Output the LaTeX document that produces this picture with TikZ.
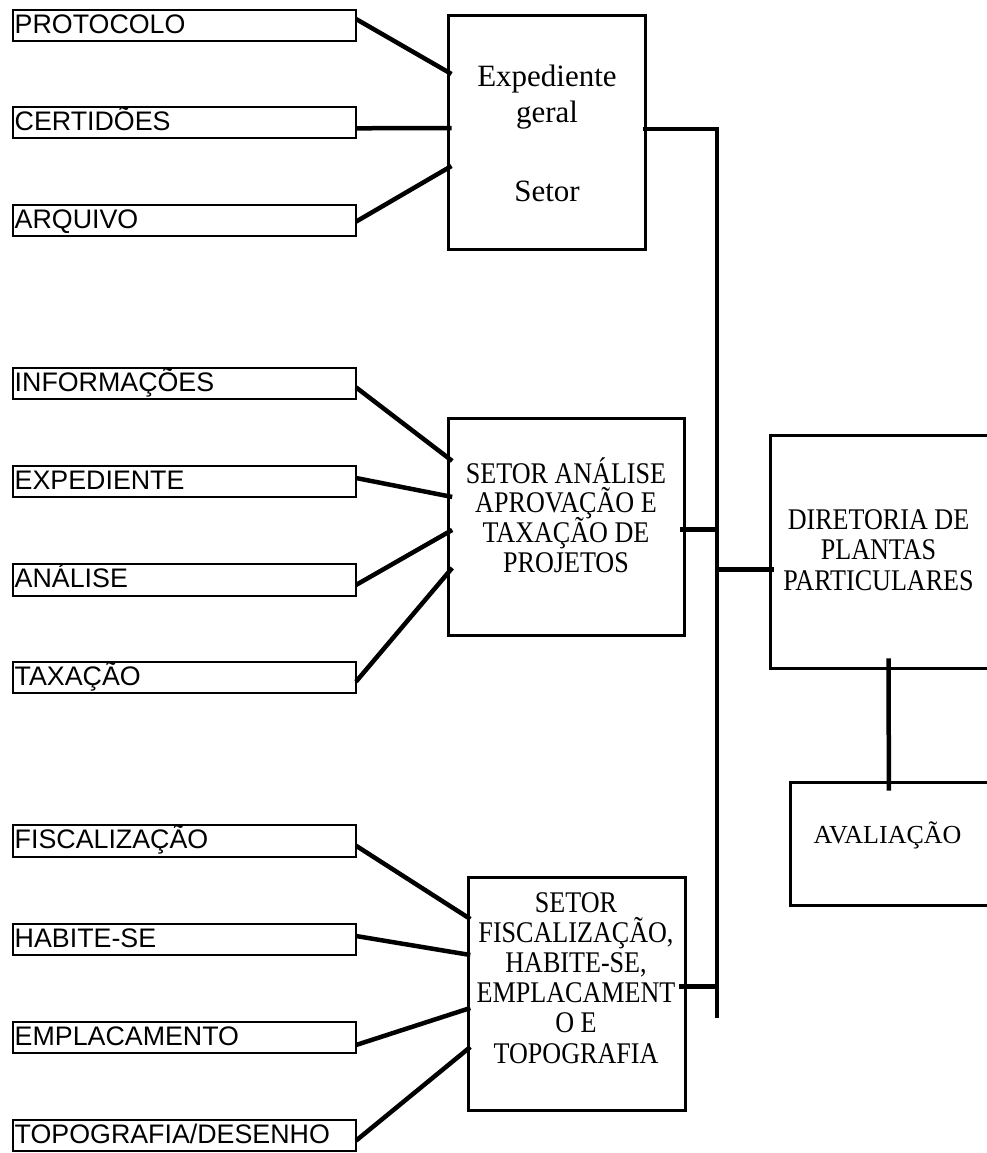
\documentclass[tikz,border=0pt]{standalone}
\usepackage{fontspec}
\setmainfont{Liberation Serif}
\newfontfamily\arialf{Liberation Sans}
\newfontfamily\condserif[FakeStretch=0.87]{Liberation Serif}
\newcommand\ctrlines[1]{\vtop{\lineskiplimit=-1000pt\lineskip=0pt\halign{\hfil##\hfil\cr#1\crcr}}}
\begin{document}
\begin{tikzpicture}[x=1pt,y=-1pt,
  lbl/.style={draw, line width=2pt, outer sep=0pt, anchor=north west,
    minimum width=343pt, minimum height=31.3pt, inner sep=0pt, inner xsep=1.7pt,
    text width=339.6pt, align=left, text height=20pt, text depth=4pt,
    font=\arialf\fontsize{26.8}{30}\selectfont},
  mid/.style={draw, line width=3pt, outer sep=0pt, anchor=north west, inner sep=0pt},
  txt/.style={anchor=base, inner sep=0pt},
  conn/.style={line width=4.5pt}]
\useasboundingbox (0,0) rectangle (986,1153);
\fill[white] (0,0) rectangle (986,1153);

% left label boxes
\node[lbl] (p1) at (13,10) {PROTOCOLO};
\node[lbl] (p2) at (13,107) {CERTIDÕES};
\node[lbl] (p3) at (13,205) {ARQUIVO};
\node[lbl] (i1) at (13,367.7) {INFORMAÇÕES};
\node[lbl] (i2) at (13,466) {EXPEDIENTE};
\node[lbl] (i3) at (13,564.3) {ANÁLISE};
\node[lbl] (i4) at (13,662) {TAXAÇÃO};
\node[lbl] (f1) at (13,825.3) {FISCALIZAÇÃO};
\node[lbl] (f2) at (13,923.7) {HABITE-SE};
\node[lbl] (f3) at (13,1022) {EMPLACAMENTO};
\node[lbl] (f4) at (13,1120) {TOPOGRAFIA/DESENHO};

% middle and right boxes
\node[mid, minimum width=197.2pt, minimum height=233.2pt] (exp) at (448.5,15.8) {};
\node[mid, minimum width=235.3pt, minimum height=216.7pt] (ana) at (448.7,418.3) {};
\node[mid, minimum width=216.7pt, minimum height=233.4pt] (fis) at (468.3,877.3) {};
\node[mid, minimum width=220pt, minimum height=233.7pt] (dir) at (770.7,435) {};
\node[mid, minimum width=201pt, minimum height=122.3pt] (aval) at (790,782.7) {};

% texts inside boxes
\node[txt, font=\fontsize{31}{36}\selectfont] (expT) at (547,87)
  {\ctrlines{Expediente\cr geral\cr\noalign{\vskip 43pt} Setor}};
\node[txt, font=\condserif\fontsize{30}{29.7}\selectfont] (anaT) at (566,483)
  {\ctrlines{SETOR ANÁLISE\cr APROVAÇÃO E\cr TAXAÇÃO DE\cr PROJETOS}};
\node[txt, font=\condserif\fontsize{30}{30.2}\selectfont] (fisT) at (576,912)
  {\ctrlines{SETOR\cr FISCALIZAÇÃO,\cr HABITE-SE,\cr EMPLACAMENT\cr O E\cr TOPOGRAFIA}};
\node[txt, font=\condserif\fontsize{30}{30.5}\selectfont] (dirT) at (878.5,529)
  {\ctrlines{DIRETORIA DE\cr PLANTAS\cr PARTICULARES}};
\node[txt, font=\fontsize{26}{30}\selectfont] (avalT) at (887.5,843) {AVALIAÇÃO};

% connectors: top group
\draw[conn] ([yshift=6.65pt]p1.east) -- ([xshift=3pt,yshift=58.4pt]exp.west);
\draw[conn] ([yshift=-5.65pt]p2.east) -- ([xshift=3pt,yshift=4.4pt]exp.west);
\draw[conn] ([yshift=-1pt]p3.east) -- ([xshift=3pt,yshift=-33.6pt]exp.west);
% middle group
\draw[conn] ([yshift=-4pt]i1.east) -- ([xshift=3.5pt,yshift=65.7pt]ana.west);
\draw[conn] ([yshift=3.65pt]i2.east) -- ([xshift=3.5pt,yshift=29.7pt]ana.west);
\draw[conn] ([yshift=-5pt]i3.east) -- ([xshift=3.5pt,yshift=-3.3pt]ana.west);
\draw[conn] ([yshift=-4pt]i4.east) -- ([xshift=3.5pt,yshift=-41.3pt]ana.west);
% bottom group
\draw[conn] ([yshift=-4.75pt]f1.east) -- ([xshift=2pt,yshift=75pt]fis.west);
\draw[conn] ([yshift=3.35pt]f2.east) -- ([xshift=2pt,yshift=39pt]fis.west);
\draw[conn] ([yshift=-7.35pt]f3.east) -- ([xshift=2pt,yshift=-14pt]fis.west);
\draw[conn] ([yshift=-5pt]f4.east) -- ([xshift=2pt,yshift=-53pt]fis.west);

% bus
\coordinate (busBot) at (717.2,1017.5);
\draw[conn] ([xshift=-3pt,yshift=3.4pt]exp.east) -| (busBot);
\draw[conn] ([xshift=-4pt,yshift=-2.6pt]ana.east) coordinate (ao) -- (ao -| busBot);
\draw[conn] ([xshift=-5.7pt,yshift=7.3pt]fis.east) coordinate (fo) -- (fo -| busBot);
\draw[conn] ([xshift=3.3pt,yshift=-17.45pt]dir.west) coordinate (di) -- (di -| busBot);
\draw[conn] ([xshift=7.95pt,yshift=10.4pt]dir.south) -- ([xshift=-1.7pt,yshift=-8pt]aval.north);
\end{tikzpicture}
\end{document}
